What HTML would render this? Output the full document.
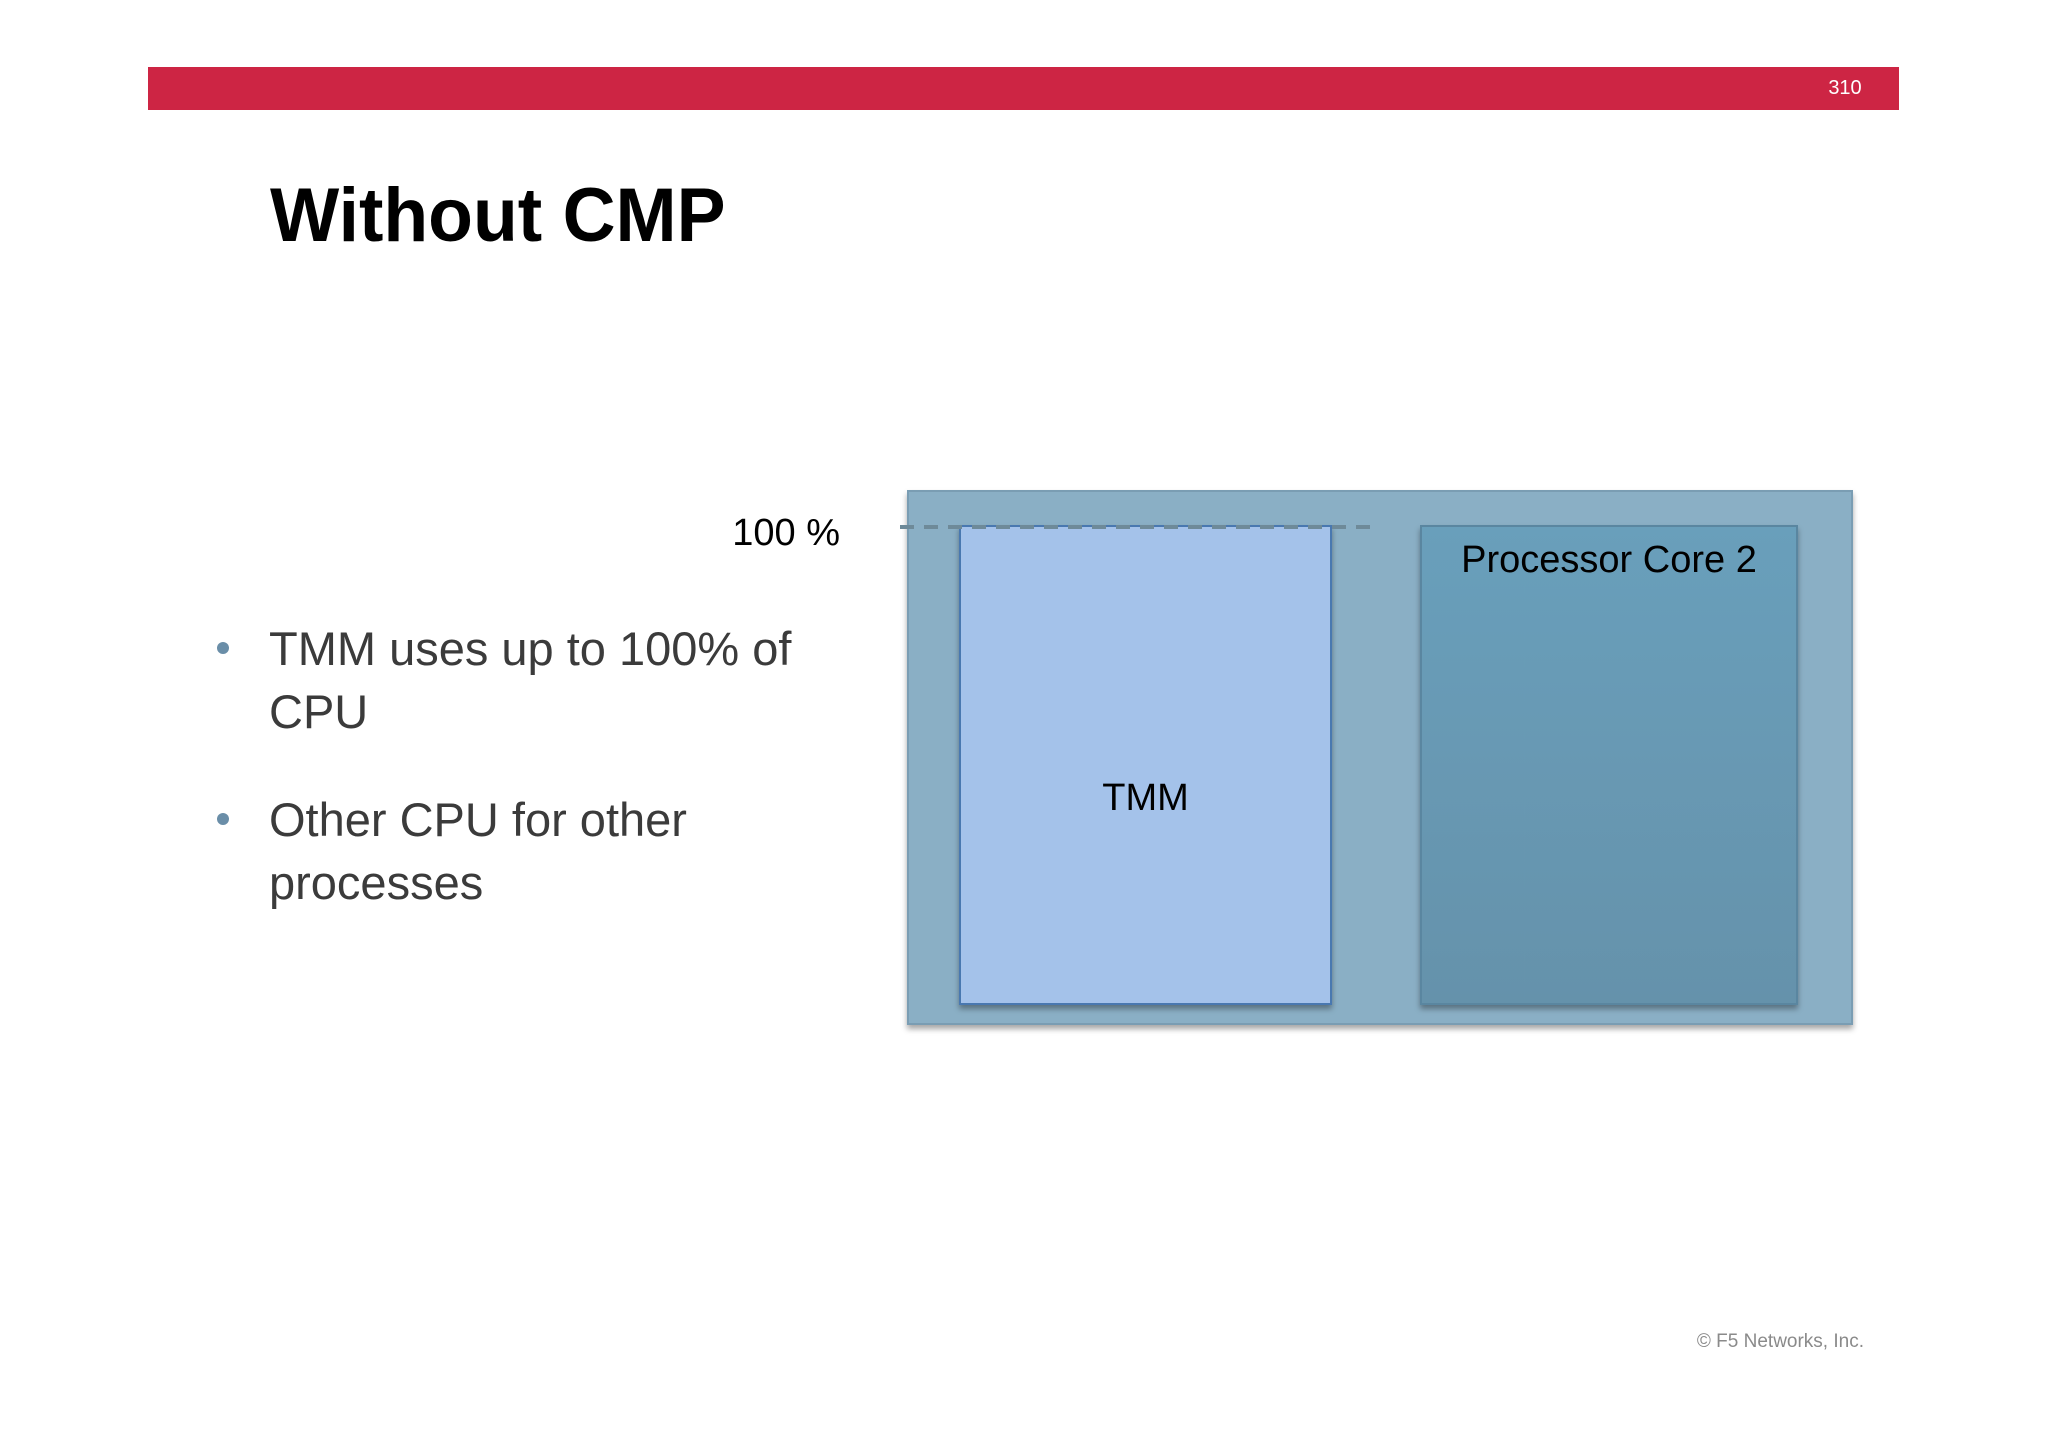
<!DOCTYPE html>
<html><head><meta charset="utf-8"><style>
body{margin:0;width:2048px;height:1447px;background:#fff;position:relative;overflow:hidden;font-family:"Liberation Sans",sans-serif}
.abs{position:absolute}
.b{font-family:"Liberation Sans",sans-serif;color:#3b3b3b;font-size:47px;position:absolute;left:269px;line-height:63px;width:620px}
.dot{position:absolute;left:217px;width:12px;height:12px;border-radius:50%;background:#6a8ea8}
</style></head><body>
<div class="abs" style="left:148px;top:67px;width:1751px;height:43px;background:#cd2544"></div>
<div class="abs" style="left:1820px;top:77px;width:50px;text-align:center;color:#fff;font-size:20px">310</div>
<div class="abs" style="left:270px;top:172px;font-size:76px;font-weight:bold;color:#000;transform:scaleX(0.965);transform-origin:left">Without CMP</div>
<div class="dot" style="top:642px"></div>
<div class="b" style="top:617px">TMM uses up to 100% of<br>CPU</div>
<div class="dot" style="top:813px"></div>
<div class="b" style="top:788px">Other CPU for other<br>processes</div>
<div class="abs" style="right:184px;top:1331px;font-size:19px;color:#8a8a8a">© F5 Networks, Inc.</div>
<svg class="abs" style="left:0;top:0" width="2048" height="1447">
<defs>
<linearGradient id="g2" x1="0" y1="0" x2="0" y2="1"><stop offset="0" stop-color="#699fbb"/><stop offset="1" stop-color="#6592ab"/></linearGradient>
<filter id="sh" x="-5%" y="-5%" width="110%" height="110%"><feDropShadow dx="0" dy="4" stdDeviation="3" flood-opacity="0.35"/></filter>
</defs>
<rect x="908" y="491" width="944" height="533" fill="#8aafc5" stroke="#7a9db3" stroke-width="2" filter="url(#sh)"/>
<g id="bars"></g>
<text x="840" y="545" text-anchor="end" font-size="38" fill="#000">100 %</text>
<line x1="900" y1="527" x2="1376" y2="527" stroke="#6e8a99" stroke-width="4" stroke-dasharray="14,10"/>
</svg>
<script>
const categories = ["TMM", "Processor Core 2"];
const usage = [100, 100];
const fills = ["#a4c2ea", "url(#g2)"];
const xs = [960, 1421], ws = [371, 376];
const y0 = 1004, y100 = 526;
function yScale(v){ return y0 - (y0 - y100) * v / 100; }
const g = document.getElementById('bars');
const NS = "http://www.w3.org/2000/svg";
categories.forEach((c,i)=>{
  const r = document.createElementNS(NS,'rect');
  
  
  const top = yScale(usage[i]);
  r.setAttribute('x', xs[i]); r.setAttribute('y', top);
  r.setAttribute('width', ws[i]); r.setAttribute('height', y0 - top);
  r.setAttribute('fill', fills[i]);
  r.setAttribute('stroke', i===0 ? '#4a78b0' : '#5a86a0');
  r.setAttribute('stroke-width', '2');
  r.setAttribute('filter', 'url(#sh)');
  g.appendChild(r);
  const t = document.createElementNS(NS,'text');
  
  
  t.setAttribute('x', xs[i] + ws[i]/2);
  t.setAttribute('y', i===0 ? 810 : top + 46);
  t.setAttribute('text-anchor', 'middle');
  t.setAttribute('font-size', '38');
  t.setAttribute('fill', '#000');
  t.textContent = c;
  g.appendChild(t);
});
</script>
</body></html>
